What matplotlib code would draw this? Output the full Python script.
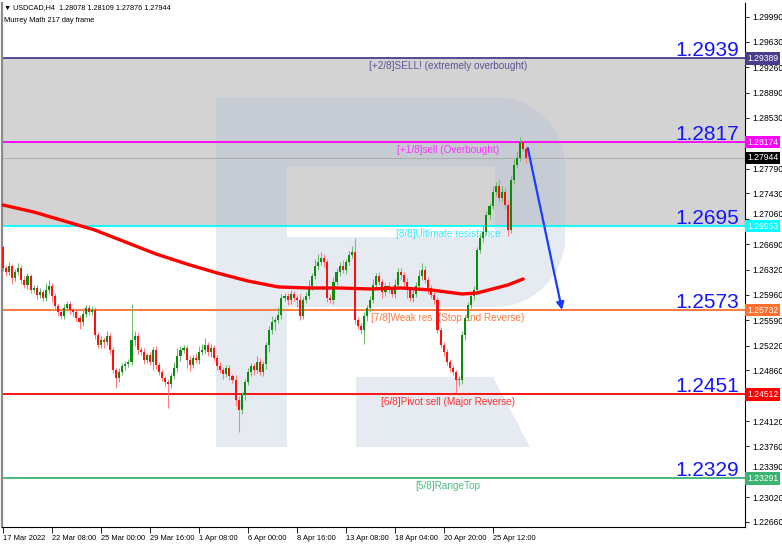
import numpy as np
import matplotlib.pyplot as plt
from matplotlib.patches import Polygon, Rectangle
from matplotlib.transforms import ScaledTranslation

# ---- data (USDCAD H4) ----
first_open = 1.26650
closes = [
    1.26346, 1.26288, 1.26375, 1.26200, 1.26288, 1.26346, 1.26171, 1.26099, 1.26230, 1.26026,
    1.26055, 1.25954, 1.25997, 1.25910, 1.26026, 1.26084, 1.25939, 1.25794, 1.25707, 1.25649,
    1.25765, 1.25823, 1.25736, 1.25707, 1.25620, 1.25562, 1.25678, 1.25765, 1.25707, 1.25736,
    1.25373, 1.25228, 1.25300, 1.25271, 1.25358, 1.25155, 1.24865, 1.24748, 1.24836, 1.24923,
    1.24952, 1.24981, 1.25300, 1.25358, 1.25155, 1.25126, 1.25010, 1.25082, 1.24981, 1.25155,
    1.24937, 1.24836, 1.24748, 1.24690, 1.24661, 1.24778, 1.24894, 1.25068, 1.25155, 1.25184,
    1.25010, 1.24937, 1.25039, 1.25010, 1.25126, 1.25155, 1.25228, 1.25126, 1.25184, 1.25039,
    1.24923, 1.24865, 1.24807, 1.24894, 1.24778, 1.24719, 1.24429, 1.24284, 1.24502, 1.24690,
    1.24836, 1.24923, 1.24865, 1.24981, 1.24836, 1.24952, 1.25228, 1.25445, 1.25562, 1.25591,
    1.25663, 1.25910, 1.25939, 1.25881, 1.25968, 1.25910, 1.25881, 1.25649, 1.25881, 1.25939,
    1.26084, 1.26230, 1.26375, 1.26433, 1.26491, 1.26433, 1.25910, 1.25881, 1.26142, 1.26288,
    1.26375, 1.26317, 1.26433, 1.26534, 1.26578, 1.25591, 1.25504, 1.25445, 1.25649, 1.25765,
    1.25881, 1.26099, 1.26230, 1.26142, 1.25997, 1.26084, 1.26026, 1.25968, 1.26099, 1.26288,
    1.26244, 1.26142, 1.26026, 1.25910, 1.25968, 1.26084, 1.26230, 1.26317, 1.26171, 1.26055,
    1.25954, 1.25881, 1.25445, 1.25228, 1.25126, 1.24981, 1.24894, 1.24836, 1.24719, 1.24719,
    1.25373, 1.25620, 1.25808, 1.25939, 1.26026, 1.26607, 1.26781, 1.26868, 1.27115, 1.27246,
    1.27449, 1.27536, 1.27362, 1.27449, 1.27260, 1.26897, 1.27623, 1.27841, 1.27943, 1.28175,
    1.28078, 1.27944,
]
# wick lengths beyond the body, in pips
wick_up = [
    2, 4, 6, 3, 5, 7, 4, 6, 5, 3,   5, 4, 6, 3, 10, 8, 4, 5, 3, 4,
    6, 5, 4, 3, 4, 5, 8, 4, 5, 6,   4, 5, 6, 4, 8, 5, 4, 3, 6, 5,
    4, 5, 52, 8, 5, 4, 6, 3, 5, 4,  6, 4, 5, 3, 4, 5, 8, 12, 6, 5,
    4, 6, 5, 7, 9, 8, 10, 5, 6, 4,  5, 6, 4, 5, 4, 3, 8, 6, 4, 5,
    6, 5, 4, 8, 6, 4, 5, 6, 8, 5,   12, 6, 5, 4, 6, 5, 4, 8, 5, 6,
    8, 5, 10, 12, 8, 6, 4, 6, 8, 6, 6, 8, 5, 6, 8, 20, 4, 5, 6, 5,
    6, 8, 5, 6, 5, 4, 6, 5, 8, 6,   6, 5, 6, 4, 8, 6, 8, 10, 6, 5,
    5, 6, 4, 4, 5, 4, 5, 4, 3, 6,   6, 5, 4, 5, 6, 5, 6, 8, 6, 5,
    8, 6, 10, 8, 6, 8, 6, 8, 10, 7, 3, 3,
]
wick_dn = [
    5, 6, 4, 8, 5, 4, 6, 5, 6, 4,   5, 6, 4, 5, 4, 6, 8, 4, 6, 5,
    5, 4, 6, 8, 5, 10, 6, 5, 4, 5,  6, 5, 4, 8, 5, 6, 5, 15, 6, 5,
    6, 5, 4, 8, 6, 5, 6, 4, 5, 12,  6, 5, 4, 6, 35, 6, 5, 6, 8, 4,
    12, 8, 5, 4, 6, 5, 4, 6, 8, 5,  6, 5, 8, 4, 6, 5, 8, 32, 6, 8,
    5, 6, 8, 5, 4, 6, 8, 10, 6, 12, 5, 6, 5, 8, 6, 5, 10, 6, 5, 4,
    5, 6, 4, 6, 5, 8, 6, 5, 6, 5,   6, 5, 6, 4, 5, 6, 5, 6, 20, 8,
    6, 5, 6, 5, 8, 6, 5, 4, 6, 5,   6, 8, 12, 5, 6, 5, 4, 6, 5, 8,
    5, 6, 5, 4, 6, 5, 6, 5, 19, 8,  6, 8, 5, 4, 6, 5, 4, 6, 5, 6,
    5, 6, 6, 5, 6, 8, 5, 6, 4, 5,   4, 7,
]

# moving average, sampled at bar indices
ma_bar = [0, 10, 20, 30, 40, 50, 60, 70, 80, 90, 100, 110, 120, 130, 140, 145, 150, 155, 160, 165, 170]
ma_val = [1.27260, 1.27159, 1.27028, 1.26897, 1.26723, 1.26549, 1.26404, 1.26273, 1.26157, 1.26070,
          1.26055, 1.26055, 1.26041, 1.26055, 1.26026, 1.25997, 1.25968, 1.25983, 1.26041, 1.26099,
          1.26186]

# Murrey Math levels
level_vals = [1.29389, 1.28174, 1.26953, 1.25732, 1.24512, 1.23291]
level_names = ['[+2/8]SELL! (extremely overbought)', '[+1/8]sell (Overbought)',
               '[8/8]Ultimate resistance', '[7/8]Weak res. (Stop and Reverse)',
               '[6/8]Pivot sell (Major Reverse)', '[5/8]RangeTop']
level_big = ['1.2939', '1.2817', '1.2695', '1.2573', '1.2451', '1.2329']
level_colors = ['#483d8b', '#ff00ff', '#00ffff', '#ff6f2f', '#ff0000', '#3cb371']
level_text_colors = ['#5c5596', '#ff33ff', '#33e8ff', '#ff7a45', '#ff3030', '#4cbf80']
last_price = 1.27944

# forecast arrow (bar index, price)
arrow_from = (171.5, 1.28088)
arrow_to = (182.7, 1.25736)

xtick_pos = [0, 16, 32, 48, 64, 80, 96, 112, 128, 144, 160]
xtick_labels = ['17 Mar 2022', '22 Mar 08:00', '25 Mar 00:00', '29 Mar 16:00', '1 Apr 08:00',
                '6 Apr 00:00', '8 Apr 16:00', '13 Apr 08:00', '18 Apr 04:00', '20 Apr 20:00',
                '25 Apr 12:00']
ytick_vals = [1.22660, 1.23020, 1.23390, 1.23760, 1.24120, 1.24490, 1.24860, 1.25220, 1.25590,
              1.25960, 1.26320, 1.26690, 1.27060, 1.27430, 1.27790, 1.28160, 1.28530, 1.28890,
              1.29260, 1.29630, 1.29990]
# labels hidden behind the price boxes are left blank
ytick_labels = ['1.22660', '1.23020', '1.23390', '1.23760', '1.24120', '', '1.24860',
                '1.25220', '1.25590', '1.25960', '1.26320', '1.26690', '1.27060', '1.27430',
                '1.27790', '', '1.28530', '1.28890', '1.29260', '1.29630', '1.29990']

# ---- figure ----
W, H = 782, 545
fig = plt.figure(figsize=(W / 100, H / 100), dpi=100)
ax_l, ax_r, ax_t, ax_b = 2, 745, 3, 527
ax = fig.add_axes([ax_l / W, 1 - ax_b / H, (ax_r - ax_l) / W, (ax_b - ax_t) / H])
ax.set_xlim(-0.33, 242.5)
ax.set_ylim(1.22585, 1.30193)

# gray overbought band
ax.axhspan(level_vals[2], level_vals[0], color='#d3d3d3', lw=0, zorder=0.1)


# watermark "R" (pixel coords of the screenshot -> axes fraction)
def px(p):
    return ((p[0] - ax_l) / (ax_r - ax_l), (ax_b - p[1]) / (ax_b - ax_t))


def arc(cx, cy, r, a0, a1, n=14):
    t = np.radians(np.linspace(a0, a1, n))
    return [(cx + r * np.cos(v), cy + r * np.sin(v)) for v in t]


r_parts = [
    [(216, 97), (287, 97), (287, 447), (216, 447)],
    [(286, 97), (496, 97), (496, 167), (286, 167)],
    arc(495, 167, 70, -90, 0) + arc(495, 237, 70, 0, 90),
    [(286, 237), (496, 237), (496, 307), (286, 307)],
    [(356, 377), (493, 377), (530, 447), (356, 447)],
]
# the band's lower edge splits the watermark into a darker and a lighter tone
split = ax.transLimits.transform((0, level_vals[2]))[1]
clip_in = Rectangle((0, split), 1, 1 - split, transform=ax.transAxes)
clip_out = Rectangle((0, 0), 1, split, transform=ax.transAxes)
for part in r_parts:
    pts = [px(p) for p in part]
    light = Polygon(pts, closed=True, transform=ax.transAxes, fc='#e6eaf1', ec='none', zorder=0.2)
    dark = Polygon(pts, closed=True, transform=ax.transAxes, fc='#c6cbd4', ec='none', zorder=0.2)
    ax.add_patch(light)
    ax.add_patch(dark)
    light.set_clip_path(clip_out)
    dark.set_clip_path(clip_in)

# levels
for v, name, big, col, tcol in zip(level_vals, level_names, level_big, level_colors, level_text_colors):
    ax.axhline(v, color=col, lw=1.3, zorder=1.5)
    ax.annotate(name, xy=(145.4, v), xytext=(0, -2.2), textcoords='offset points',
                ha='center', va='top', color=tcol, fontsize=7.2, family='Liberation Sans', zorder=2)
    ax.annotate(big, xy=(240.5, v), xytext=(0, 1.5), textcoords='offset points',
                ha='right', va='baseline', color='#1414ff', fontsize=15, family='Liberation Sans', zorder=2)
ax.axhline(last_price, color='#a8a8a8', lw=0.6, zorder=1.4)

# MA
ax.plot(ma_bar, ma_val, color='#ff0000', lw=2.4, zorder=5, solid_capstyle='round')

# candles
c = np.array(closes)
o = np.r_[first_open, c[:-1]]
hi = np.maximum(o, c) + np.array(wick_up) * 1e-4
lo = np.minimum(o, c) - np.array(wick_dn) * 1e-4
x = np.arange(len(c))
bull = c >= o
wick_cols = np.where(bull, '#6db86d', '#ff7f7f')
body_cols = np.where(bull, '#0c8c0c', '#ff1010')
ax.vlines(x, lo, hi, colors=wick_cols, lw=0.75, zorder=3)
ax.bar(x, np.maximum(np.abs(c - o), 0.00008), bottom=np.minimum(o, c), width=0.68,
       color=body_cols, lw=0, zorder=4)

# arrow
ax.annotate('', xy=arrow_to, xytext=arrow_from,
            arrowprops=dict(arrowstyle='-|>', color='#1a3cff', lw=1.6, mutation_scale=11,
                            shrinkA=0, shrinkB=0), zorder=6)

# axes styling
ax.yaxis.tick_right()
ax.set_yticks(ytick_vals)
ax.set_yticklabels(ytick_labels)
ax.set_xticks(xtick_pos)
ax.set_xticklabels(xtick_labels, ha='left')
ax.tick_params(axis='y', length=3, width=0.6, labelsize=6.2, pad=2, colors='black')
ax.tick_params(axis='x', length=4, width=0.6, labelsize=5.4, pad=1.5, colors='black')
for lab in ax.get_xticklabels() + ax.get_yticklabels():
    lab.set_family('Liberation Sans')
# 1.23390 and 1.27060 peek out just above the neighbouring price boxes
ylabs = ax.get_yticklabels()
for i in (2, 12):
    ylabs[i].set_transform(ylabs[i].get_transform() + ScaledTranslation(0, 3.5 / 72, fig.dpi_scale_trans))

ax.spines['top'].set_visible(False)
ax.spines['left'].set_color('#8a8a8a')
ax.spines['left'].set_linewidth(1.6)
ax.spines['right'].set_linewidth(0.8)
ax.spines['bottom'].set_linewidth(0.8)

# price boxes on the right axis
for v, col in zip(level_vals + [last_price], level_colors + ['#000000']):
    ax.annotate('%.5f' % v, xy=(1, v), xycoords=('axes fraction', 'data'), xytext=(1.5, 0),
                textcoords='offset points', ha='left', va='center', color='white',
                fontsize=6.2, family='Liberation Sans', zorder=10, annotation_clip=False,
                bbox=dict(boxstyle='square,pad=0.2', fc=col, ec='none'))

# header text
fig.text(4 / W, 1 - 8 / H, '\u25bc USDCAD,H4  1.28078 1.28109 1.27876 1.27944',
         fontsize=5.2, family=['Liberation Sans', 'DejaVu Sans'], va='center', ha='left')
fig.text(4 / W, 1 - 20 / H, 'Murrey Math 217 day frame',
         fontsize=5.3, family='Liberation Sans', va='center', ha='left')

fig.savefig('out.png', dpi=100)
